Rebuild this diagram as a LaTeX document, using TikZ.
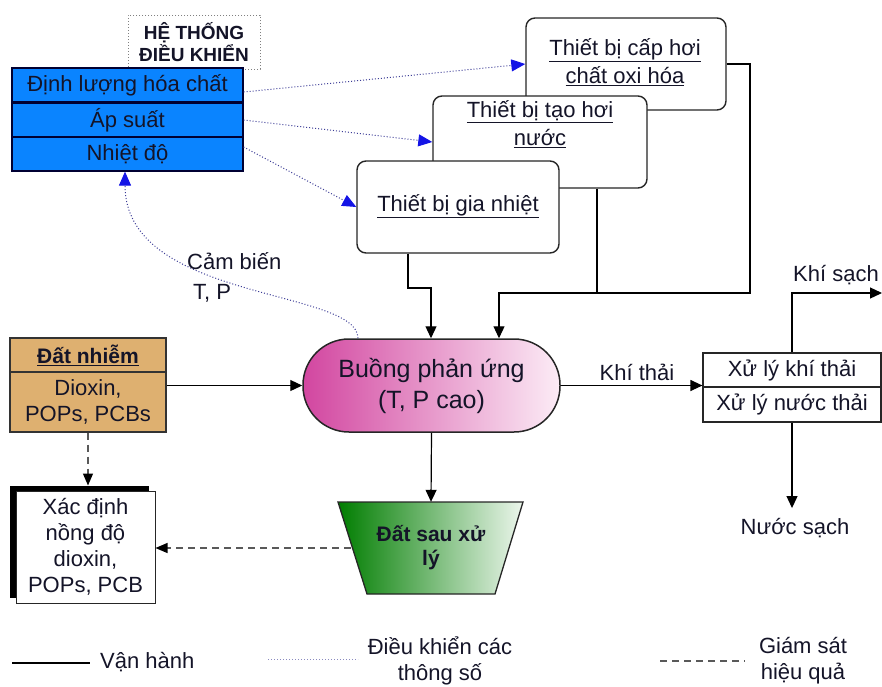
\documentclass[tikz,border=0pt]{standalone}
\usepackage{fontspec}
\setmainfont{Liberation Sans}
\usetikzlibrary{arrows.meta,shadows}
\definecolor{ctrlblue}{RGB}{10,132,255}
\definecolor{tan}{RGB}{222,176,112}
\definecolor{pinkL}{RGB}{210,70,160}
\definecolor{pinkR}{RGB}{252,236,246}
\definecolor{greenL}{RGB}{0,125,0}
\definecolor{greenR}{RGB}{236,246,236}
\definecolor{ctrlline}{RGB}{60,60,150}
\definecolor{arrowblue}{RGB}{20,20,230}
\definecolor{txt}{RGB}{20,20,40}
\begin{document}
\begin{tikzpicture}[x=1pt,y=-1pt,
  every node/.style={font=\fontsize{22}{26}\selectfont, inner sep=0pt, text=txt},
  line/.style={draw=black, line width=1.2pt},
  flow/.style={line, -{Triangle[length=12pt,width=11pt]}},
  ctrl/.style={draw=ctrlline, line width=1pt, dotted, -{Triangle[length=14pt,width=12pt,color=arrowblue]}},
  monitor/.style={draw=gray!70!black, line width=1.2pt, dash pattern=on 7pt off 5pt, -{Triangle[length=12pt,width=10pt,color=black]}},
  ctrlrow/.style={draw=black!80!blue, line width=1.2pt, fill=ctrlblue, minimum width=231pt, minimum height=34pt},
  devbox/.style={draw=black!85, line width=1.4pt, fill=white, rounded corners=9pt},
  devtext/.style={align=center},
  tanbox/.style={draw=black!80, line width=1.2pt, fill=tan, minimum width=156pt},
  xlbox/.style={draw=black!85, line width=1.2pt, fill=white, minimum width=178pt},
]
\useasboundingbox (0,0) rectangle (882,686);

% control system
\node[draw=gray, dotted, line width=1pt, fill=white, minimum width=132pt, minimum height=54pt,
      font=\bfseries\fontsize{19}{22}\selectfont, align=center] (hdr) at (194,42) {HỆ THỐNG\\ĐIỀU KHIỂN};
\node[ctrlrow] (r1) at (127.5,85) {Định lượng hóa chất};
\node[ctrlrow] (r2) at (127.5,120) {Áp suất};
\node[ctrlrow] (r3) at (127.5,154) {Nhiệt độ};

% devices
\node[devbox, minimum width=200pt, minimum height=92pt] (cap) at (626,64) {};
\node[devtext] (captxt) at (625,62) {\underline{Thiết bị cấp hơi}\\[2pt]\underline{chất oxi hóa}};
\node[devbox, minimum width=214pt, minimum height=92pt] (tao) at (540,142) {};
\node[devtext] (taotxt) at (540,124) {\underline{Thiết bị tạo hơi}\\[2pt]\underline{nước}};
\node[devbox, minimum width=202pt, minimum height=92pt] (gia) at (458,207) {};
\node[devtext] (giatxt) at (458,206) {\underline{Thiết bị gia nhiệt}};

% reactor
\node[draw=black!85, line width=1.5pt, left color=pinkL, right color=pinkR, rounded corners=46pt,
      minimum width=257pt, minimum height=93pt, align=center,
      font=\fontsize{25}{31}\selectfont] (bu) at (431.5,385.5) {Buồng phản ứng\\(T, P cao)};

% contaminated soil
\node[tanbox, minimum height=34pt, font=\bfseries\fontsize{21}{26}\selectfont] (dat1) at (88,355) {\underline{Đất nhiễm}};
\node[tanbox, minimum height=60pt, align=center] (dat2) at (88,402) {Dioxin,\\POPs, PCBs};

% analysis box
\node[draw=black!85, line width=1pt, fill=white, minimum width=139pt, minimum height=112pt, align=center,
      general shadow={shadow xshift=-6pt, shadow yshift=5pt, fill=black}] (xd) at (85.5,547)
      {Xác định\\nồng độ\\dioxin,\\POPs, PCB};

% treated soil trapezoid
\path[draw=black!85, line width=1.3pt, left color=greenL, right color=greenR]
  (338,502) -- (523,502) -- (495,594) -- (367,594) -- cycle;
\node[minimum width=160pt, minimum height=92pt, align=center,
      font=\bfseries\fontsize{21}{24}\selectfont] (soil) at (431,548) {Đất sau xử\\lý};

% waste treatment
\node[xlbox, minimum height=34pt] (xl1) at (792,370) {Xử lý khí thải};
\node[xlbox, minimum height=35pt] (xl2) at (792,404.5) {Xử lý nước thải};

% operation flows
\coordinate (j1) at (431,288);
\coordinate (j2) at (750,293);
\coordinate (j3) at (499,293);
\draw[flow] ([xshift=-50pt]gia.south) |- (j1) -- (j1 |- bu.north);
\draw[flow] (cap.east) -| (j2) -- (j3) -- (j3 |- bu.north);
\draw[line] ([xshift=57pt]tao.south) -- ([xshift=57pt]tao.south |- j2);
\draw[flow] (bu.west -| dat2.east) -- (bu.west);
\draw[flow] (bu.south) -- (soil.north);
\draw[flow] (bu.east) -- (bu.east -| xl1.west);
\node (kt) at (637,372) {Khí thải};
\coordinate (ks) at (882,293);
\draw[flow] (xl1.north) |- (ks);
\node (ksl) at (836,275) {Khí sạch};
\node (ns) at (795,528) {Nước sạch};
\draw[flow] (xl2.south) -- ([yshift=10pt]xl2.south |- ns.north);

% control flows
\draw[ctrl] ([yshift=-7pt]r1.east) -- (cap.west);
\draw[ctrl] (r2.east) -- (tao.west);
\draw[ctrl] ([yshift=7pt]r3.east) -- (gia.west);
\draw[ctrl] ([xshift=-73.5pt]bu.north) .. controls +(0,-50) and ([xshift=-2.5pt,yshift=-130pt]r3.south) .. ([xshift=-2.5pt]r3.south);
\node[anchor=west] (cb) at (187,261) {Cảm biến};
\node[anchor=west] (tp) at (193,293) {T, P};

% monitoring
\draw[monitor] (dat2.south) -- ([yshift=5pt]dat2.south |- xd.north);
\draw[monitor] (soil.west) -- (soil.west -| xd.east);

% legend
\draw[line] (12,663) -- (90,663);
\node[anchor=west] (lg1) at (100,662) {Vận hành};
\draw[draw=ctrlline!60, line width=1pt, dotted] (268,659) -- (358,659);
\node[align=center] (lg2) at (440,661) {Điều khiển các\\thông số};
\draw[draw=gray!70!black, line width=1.2pt, dash pattern=on 7pt off 5pt] (660,661) -- (745,661);
\node[align=center] (lg3) at (803,661) {Giám sát\\hiệu quả};
\end{tikzpicture}
\end{document}
